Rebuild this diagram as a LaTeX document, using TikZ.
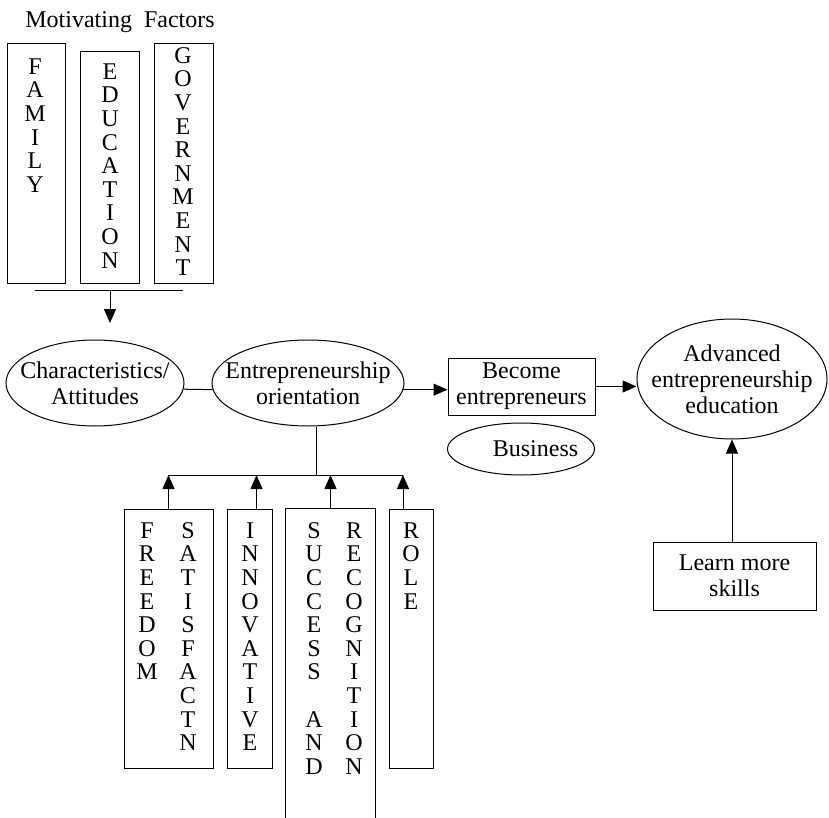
\documentclass[tikz,border=0pt]{standalone}
\usepackage{fontspec}
\setmainfont{Liberation Serif}
\usetikzlibrary{shapes.geometric,arrows.meta}

\begin{document}
\begin{tikzpicture}[x=1pt, y=-1pt, line width=1pt,
  >={Triangle[width=12pt,length=14pt]},
  every node/.style={font=\fontsize{24}{26}\selectfont},
  box/.style={draw, rectangle, inner sep=0pt},
  oval/.style={draw, ellipse, inner xsep=-18pt, inner ysep=0pt, align=center},
  letters/.style={anchor=north, inner sep=0pt, align=center,
    font=\fontsize{24}{23.6}\selectfont}]
  \useasboundingbox (0,0) rectangle (829,818);

  \node (title) at (120,22) {Motivating\ \ Factors};
  \node [box, minimum width=58, minimum height=239] (family) at (36,163.5) {};
  \node [box, minimum width=59, minimum height=231] (educ) at (109.5,167.5) {};
  \node [box, minimum width=59, minimum height=239] (govt) at (183.5,163.5) {};
  \node [letters] (famtxt) at (35,58) {F\\A\\M\\I\\L\\Y};
  \node [letters] (edutxt) at (110,63) {E\\D\\U\\C\\A\\T\\I\\O\\N};
  \node [letters] (govtxt) at (183,47) {G\\O\\V\\E\\R\\N\\M\\E\\N\\T};
  \coordinate (barl) at (35,290);
  \coordinate (barm) at (110,290);
  \coordinate (barr) at (183,290);
  \coordinate (barend) at (110,323);
  \draw (barl) -- (barr);
  \draw [->] (barm) -- (barend);

  \node [oval, minimum width=178, minimum height=86] (charact) at (95,383)
    {Characteristics/\\Attitudes};
  \node [oval, minimum width=192, minimum height=86] (entor) at (308,383)
    {Entrepreneurship\\orientation};
  \node [box, minimum width=147, minimum height=57, align=center] (become)
    at (521.5,386.5) {Become\\entrepreneurs};
  \node [oval, minimum width=147, minimum height=52] (business) at (521,449)
    {\hspace*{29pt}\makebox[0pt]{Business}};
  \node [oval, minimum width=190, minimum height=120] (advanced) at (732,379)
    {Advanced\\entrepreneurship\\education};
  \node [box, minimum width=163, minimum height=68, align=center] (learn)
    at (734.5,576) {Learn more\\skills};
  \draw (charact.-4) -- (entor.184);
  \draw [->] (entor.-4) -- (entor.-4 -| become.west);
  \draw [->] (become.east) -- (become.east -| advanced.west);
  \draw [->] (learn.north -| advanced.south) -- (advanced.south);

  \coordinate (bus) at (316,475);
  \coordinate (busl) at (168,475);
  \coordinate (busr) at (403,475);
  \draw (bus |- entor.south) -- (bus);
  \draw (busl) -- (busr);
  \node [box, minimum width=89, minimum height=259] (free) at (168.5,638.5) {};
  \node [box, minimum width=45, minimum height=259] (innov) at (249.5,638.5) {};
  \node [inner sep=0pt, minimum width=89, minimum height=309] (succ) at (330.5,663.5) {};
  \node [box, minimum width=44, minimum height=259] (role) at (411,638.5) {};
  \draw (succ.south west) |- (succ.north east) -- (succ.south east);
  \draw [->] (free.north) -- (free.north |- bus);
  \draw [->] ([xshift=7pt]innov.north) -- ([xshift=7pt]innov.north |- bus);
  \draw [->] (succ.north) -- (succ.north |- bus);
  \draw [->] (role.north -| busr) -- (busr);
  \node [letters] (freetxt) at (147,522) {F\\R\\E\\E\\D\\O\\M};
  \node [letters] (sattxt) at (188,522) {S\\A\\T\\I\\S\\F\\A\\C\\T\\N};
  \node [letters] (innovtxt) at (250,522) {I\\N\\N\\O\\V\\A\\T\\I\\V\\E};
  \node [letters] (succtxt) at (314,522) {S\\U\\C\\C\\E\\S\\S\\~\\A\\N\\D};
  \node [letters] (recogtxt) at (354,522) {R\\E\\C\\O\\G\\N\\I\\T\\I\\O\\N};
  \node [letters] (roletxt) at (411,522) {R\\O\\L\\E};
\end{tikzpicture}
\end{document}
